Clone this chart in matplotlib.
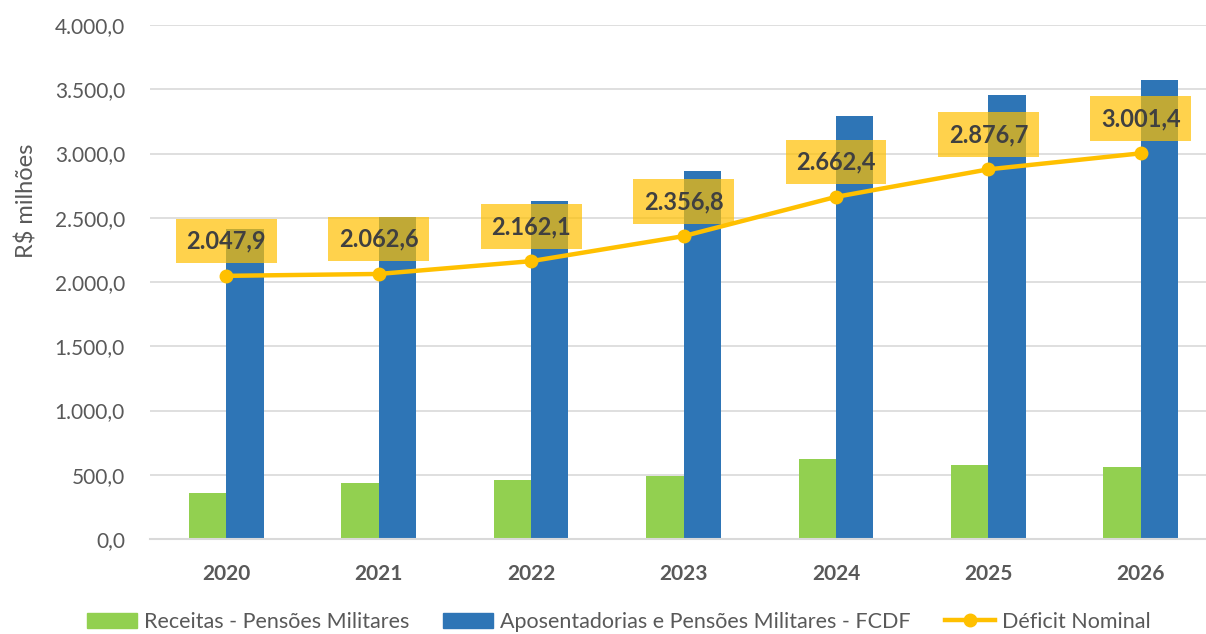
import matplotlib
matplotlib.use("Agg")
import matplotlib.pyplot as plt
from matplotlib.ticker import FuncFormatter, MultipleLocator
from matplotlib.patches import Patch
from matplotlib.lines import Line2D

years = ["2020", "2021", "2022", "2023", "2024", "2025", "2026"]
receitas = [358, 437, 460, 492, 624, 577, 561]
aposentadorias = [2410, 2506, 2628, 2860, 3295, 3455, 3575]
deficit = [2047.9, 2062.6, 2162.1, 2356.8, 2662.4, 2876.7, 3001.4]
deficit_labels = ["2.047,9", "2.062,6", "2.162,1", "2.356,8", "2.662,4", "2.876,7", "3.001,4"]

plt.rcParams['font.family'] = ['Lato', 'DejaVu Sans']

W, H = 1206, 634
fig = plt.figure(figsize=(W / 100, H / 100), dpi=100)
left, right, bottom, top = 150, 1217, 539, 25
ax = fig.add_axes([left / W, (H - bottom) / H, (right - left) / W, (bottom - top) / H])

x = list(range(len(years)))
bw = 0.245
green = "#92D050"
blue = "#2E75B6"
yellow = "#FFC000"
grey = "#595959"

ax.bar([i - bw / 2 for i in x], receitas, width=bw, color=green, zorder=2)
ax.bar([i + bw / 2 for i in x], aposentadorias, width=bw, color=blue, zorder=2)
ax.plot(x, deficit, color=yellow, lw=3.2, marker="o", ms=9, zorder=3)

for i, (v, lab) in enumerate(zip(deficit, deficit_labels)):
    ax.annotate(lab, (i, v), xytext=(0, 25), textcoords="offset points",
                ha="center", va="center", fontsize=17, fontweight="bold",
                color="#404040", zorder=5,
                bbox=dict(boxstyle="square,pad=0.45", fc=yellow, ec="none", alpha=0.7))

ax.set_xlim(-0.5, len(years) - 0.5)
ax.set_ylim(0, 4000)
ax.yaxis.set_major_locator(MultipleLocator(500))

def fmt(v, pos):
    s = f"{v:,.1f}"
    return s.replace(",", "X").replace(".", ",").replace("X", ".")

ax.yaxis.set_major_formatter(FuncFormatter(fmt))
ax.set_xticks(x)
ax.set_xticklabels(years, fontsize=15, fontweight="bold", color=grey)
ax.tick_params(axis="x", length=0, pad=18)
ax.tick_params(axis="y", length=0, pad=18, labelsize=15, labelcolor=grey)
ax.grid(axis="y", color="#D9D9D9", lw=1.2, zorder=0)
for s in ["top", "right", "left"]:
    ax.spines[s].set_visible(False)
ax.spines["bottom"].set_color("#D9D9D9")
ax.spines["bottom"].set_linewidth(1.5)
ax.set_axisbelow(True)

fig.text(26 / W, 1 - 201 / H, "R$ milhões", rotation=90, ha="center", va="center",
         fontsize=17, color=grey)

handles = [Patch(color=green), Patch(color=blue),
           Line2D([0], [0], color=yellow, lw=3.2, marker="o", ms=9)]
labels = ["Receitas - Pensões Militares", "Aposentadorias e Pensões Militares - FCDF", "Déficit Nominal"]
fig.legend(handles, labels, loc="center", bbox_to_anchor=(0.513, 1 - 622 / H), ncol=3,
           frameon=False, fontsize=15.5, labelcolor=grey, handlelength=2.3,
           handleheight=0.7, handletextpad=0.33, columnspacing=1.6)

fig.savefig("out.png", dpi=100)
